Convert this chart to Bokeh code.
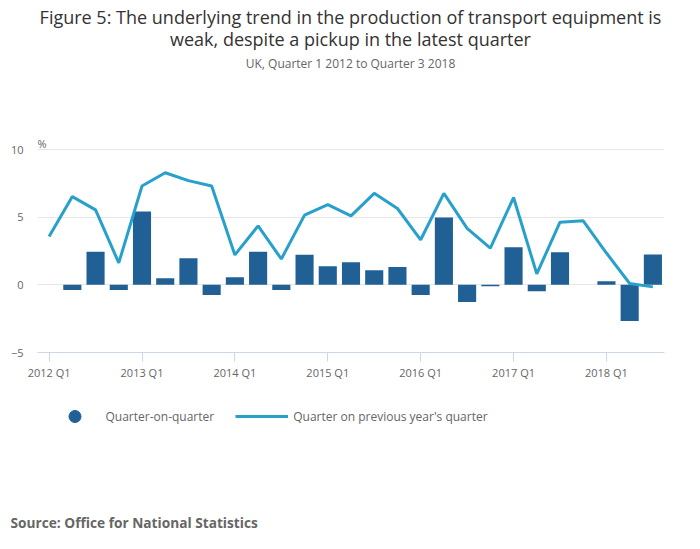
from bokeh.plotting import figure
from bokeh.layouts import column
from bokeh.models import Range1d, FixedTicker, Label, Legend, LegendItem
from bokeh.embed import file_html
from bokeh.resources import INLINE

quarters = []
for yr in range(2012, 2019):
    for q in range(1, 5):
        quarters.append(f"{yr} Q{q}")
quarters = quarters[:27]

qoq = [0.0, -0.39, 2.45, -0.39, 5.42, 0.49, 1.96, -0.76, 0.56, 2.45, -0.39, 2.23,
       1.37, 1.67, 1.08, 1.32, -0.76, 4.98, -1.27, -0.10, 2.77, -0.47, 2.40, 0.0,
       0.27, -2.67, 2.25]
yoy = [3.58, 6.52, 5.54, 1.62, 7.30, 8.28, 7.70, 7.30, 2.21, 4.36, 1.91, 5.15,
       5.93, 5.10, 6.76, 5.64, 3.33, 6.76, 4.17, 2.72, 6.45, 0.81, 4.63, 4.73,
       2.35, 0.10, -0.15]
y_ticks = [-5, 0, 5, 10]
x_tick_idx = [0, 4, 8, 12, 16, 20, 24]

title1 = "Figure 5: The underlying trend in the production of transport equipment is"
title2 = "weak, despite a pickup in the latest quarter"
subtitle = "UK, Quarter 1 2012 to Quarter 3 2018"
source = "Source: Office for National Statistics"
series_names = ["Quarter-on-quarter", "Quarter on previous year's quarter"]

FONT = "Open Sans"
GREY = "#666666"
BAR = "#206095"
LINE = "#27a0cc"
NAN = float("nan")

idx = list(range(len(quarters)))

W = 684
FRAME_LEFT = 37
FRAME_RIGHT = 664
FRAME_BOTTOM = 352.0
PX_PER_UNIT = 13.533
y_top = -5 + FRAME_BOTTOM / PX_PER_UNIT
MAIN_H = 382

p = figure(width=W, height=MAIN_H, output_backend="svg", toolbar_location=None,
           title_location=None,
           x_range=Range1d(-0.5, 26.5), y_range=Range1d(-5, y_top),
           min_border_left=FRAME_LEFT, min_border_right=W - FRAME_RIGHT, min_border_top=0,
           min_border_bottom=MAIN_H - int(FRAME_BOTTOM))
p.outline_line_color = None
p.background_fill_color = "white"
p.frame_align = False

p.vbar(x=idx, top=qoq, bottom=0, width=0.78, fill_color=BAR, line_color=None)
p.line(x=idx, y=yoy, line_color=LINE, line_width=3)

p.xaxis.ticker = FixedTicker(ticks=x_tick_idx)
p.xaxis.major_label_overrides = {i: quarters[i] for i in x_tick_idx}
p.xaxis.axis_line_color = "#ccd6eb"
p.xaxis.major_tick_line_color = "#ccd6eb"
p.xaxis.major_tick_out = 9
p.xaxis.major_tick_in = 0
p.xaxis.minor_tick_line_color = None
p.xaxis.major_label_standoff = 3
p.xaxis.major_label_text_font = FONT
p.xaxis.major_label_text_font_size = "11px"
p.xaxis.major_label_text_color = GREY

p.yaxis.ticker = FixedTicker(ticks=y_ticks)
p.yaxis.axis_line_color = None
p.yaxis.major_tick_line_color = None
p.yaxis.major_tick_out = 0
p.yaxis.major_tick_in = 0
p.yaxis.minor_tick_line_color = None
p.yaxis.major_label_standoff = 14
p.yaxis.major_label_text_font = FONT
p.yaxis.major_label_text_font_size = "11px"
p.yaxis.major_label_text_color = GREY

p.xgrid.grid_line_color = None
p.ygrid.grid_line_color = "#e6e6e6"
p.ygrid.ticker = FixedTicker(ticks=[0, 5, 10])

def lab(fig, text, sx, sy, size, color, align="left", style="normal"):
    fig.add_layout(Label(x=sx, y=sy, x_units="screen", y_units="screen",
                         text=text, text_font=FONT, text_font_size=size,
                         text_color=color, text_align=align, text_baseline="middle",
                         text_font_style=style))

# frame-relative screen coords: sx = X - frame left, sy = frame bottom - Y
lab(p, title1, 350 - FRAME_LEFT, FRAME_BOTTOM - 16.5, "18px", "#333333", "center")
lab(p, title2, 350 - FRAME_LEFT, FRAME_BOTTOM - 38.5, "18px", "#333333", "center")
lab(p, subtitle, 350 - FRAME_LEFT, FRAME_BOTTOM - 63, "12px", GREY, "center")
lab(p, "%", 0, FRAME_BOTTOM - 143, "11px", GREY)

# lower panel: legend + source
LOW_H = 151
p2 = figure(width=W, height=LOW_H, output_backend="svg", toolbar_location=None,
            title_location=None, x_axis_type=None, y_axis_type=None,
            x_range=Range1d(0, 1), y_range=Range1d(0, 1),
            min_border_left=0, min_border_right=0, min_border_top=0, min_border_bottom=0)
p2.outline_line_color = None
p2.frame_align = False
p2.xgrid.visible = False
p2.ygrid.visible = False
r_bar = p2.scatter(x=[NAN], y=[NAN], marker="circle", size=12, fill_color=BAR, line_color=BAR)
r_line = p2.line(x=[NAN], y=[NAN], line_color=LINE, line_width=3)

low_bottom = MAIN_H + LOW_H  # screen y of p2 bottom
legend = Legend(items=[LegendItem(label=series_names[0], renderers=[r_bar]),
                       LegendItem(label=series_names[1], renderers=[r_line])],
                location=(47.5, low_bottom - 431), orientation="horizontal",
                glyph_width=53, glyph_height=30, label_standoff=5, spacing=21,
                padding=0, margin=0, border_line_color=None,
                background_fill_alpha=0,
                label_text_font=FONT, label_text_font_size="12px",
                label_text_color=GREY)
p2.add_layout(legend)
lab(p2, source, 10, low_bottom - 521.7, "13.7px", GREY, style="bold")

open("out.html", "w").write(file_html(column(p, p2, spacing=0), INLINE))
